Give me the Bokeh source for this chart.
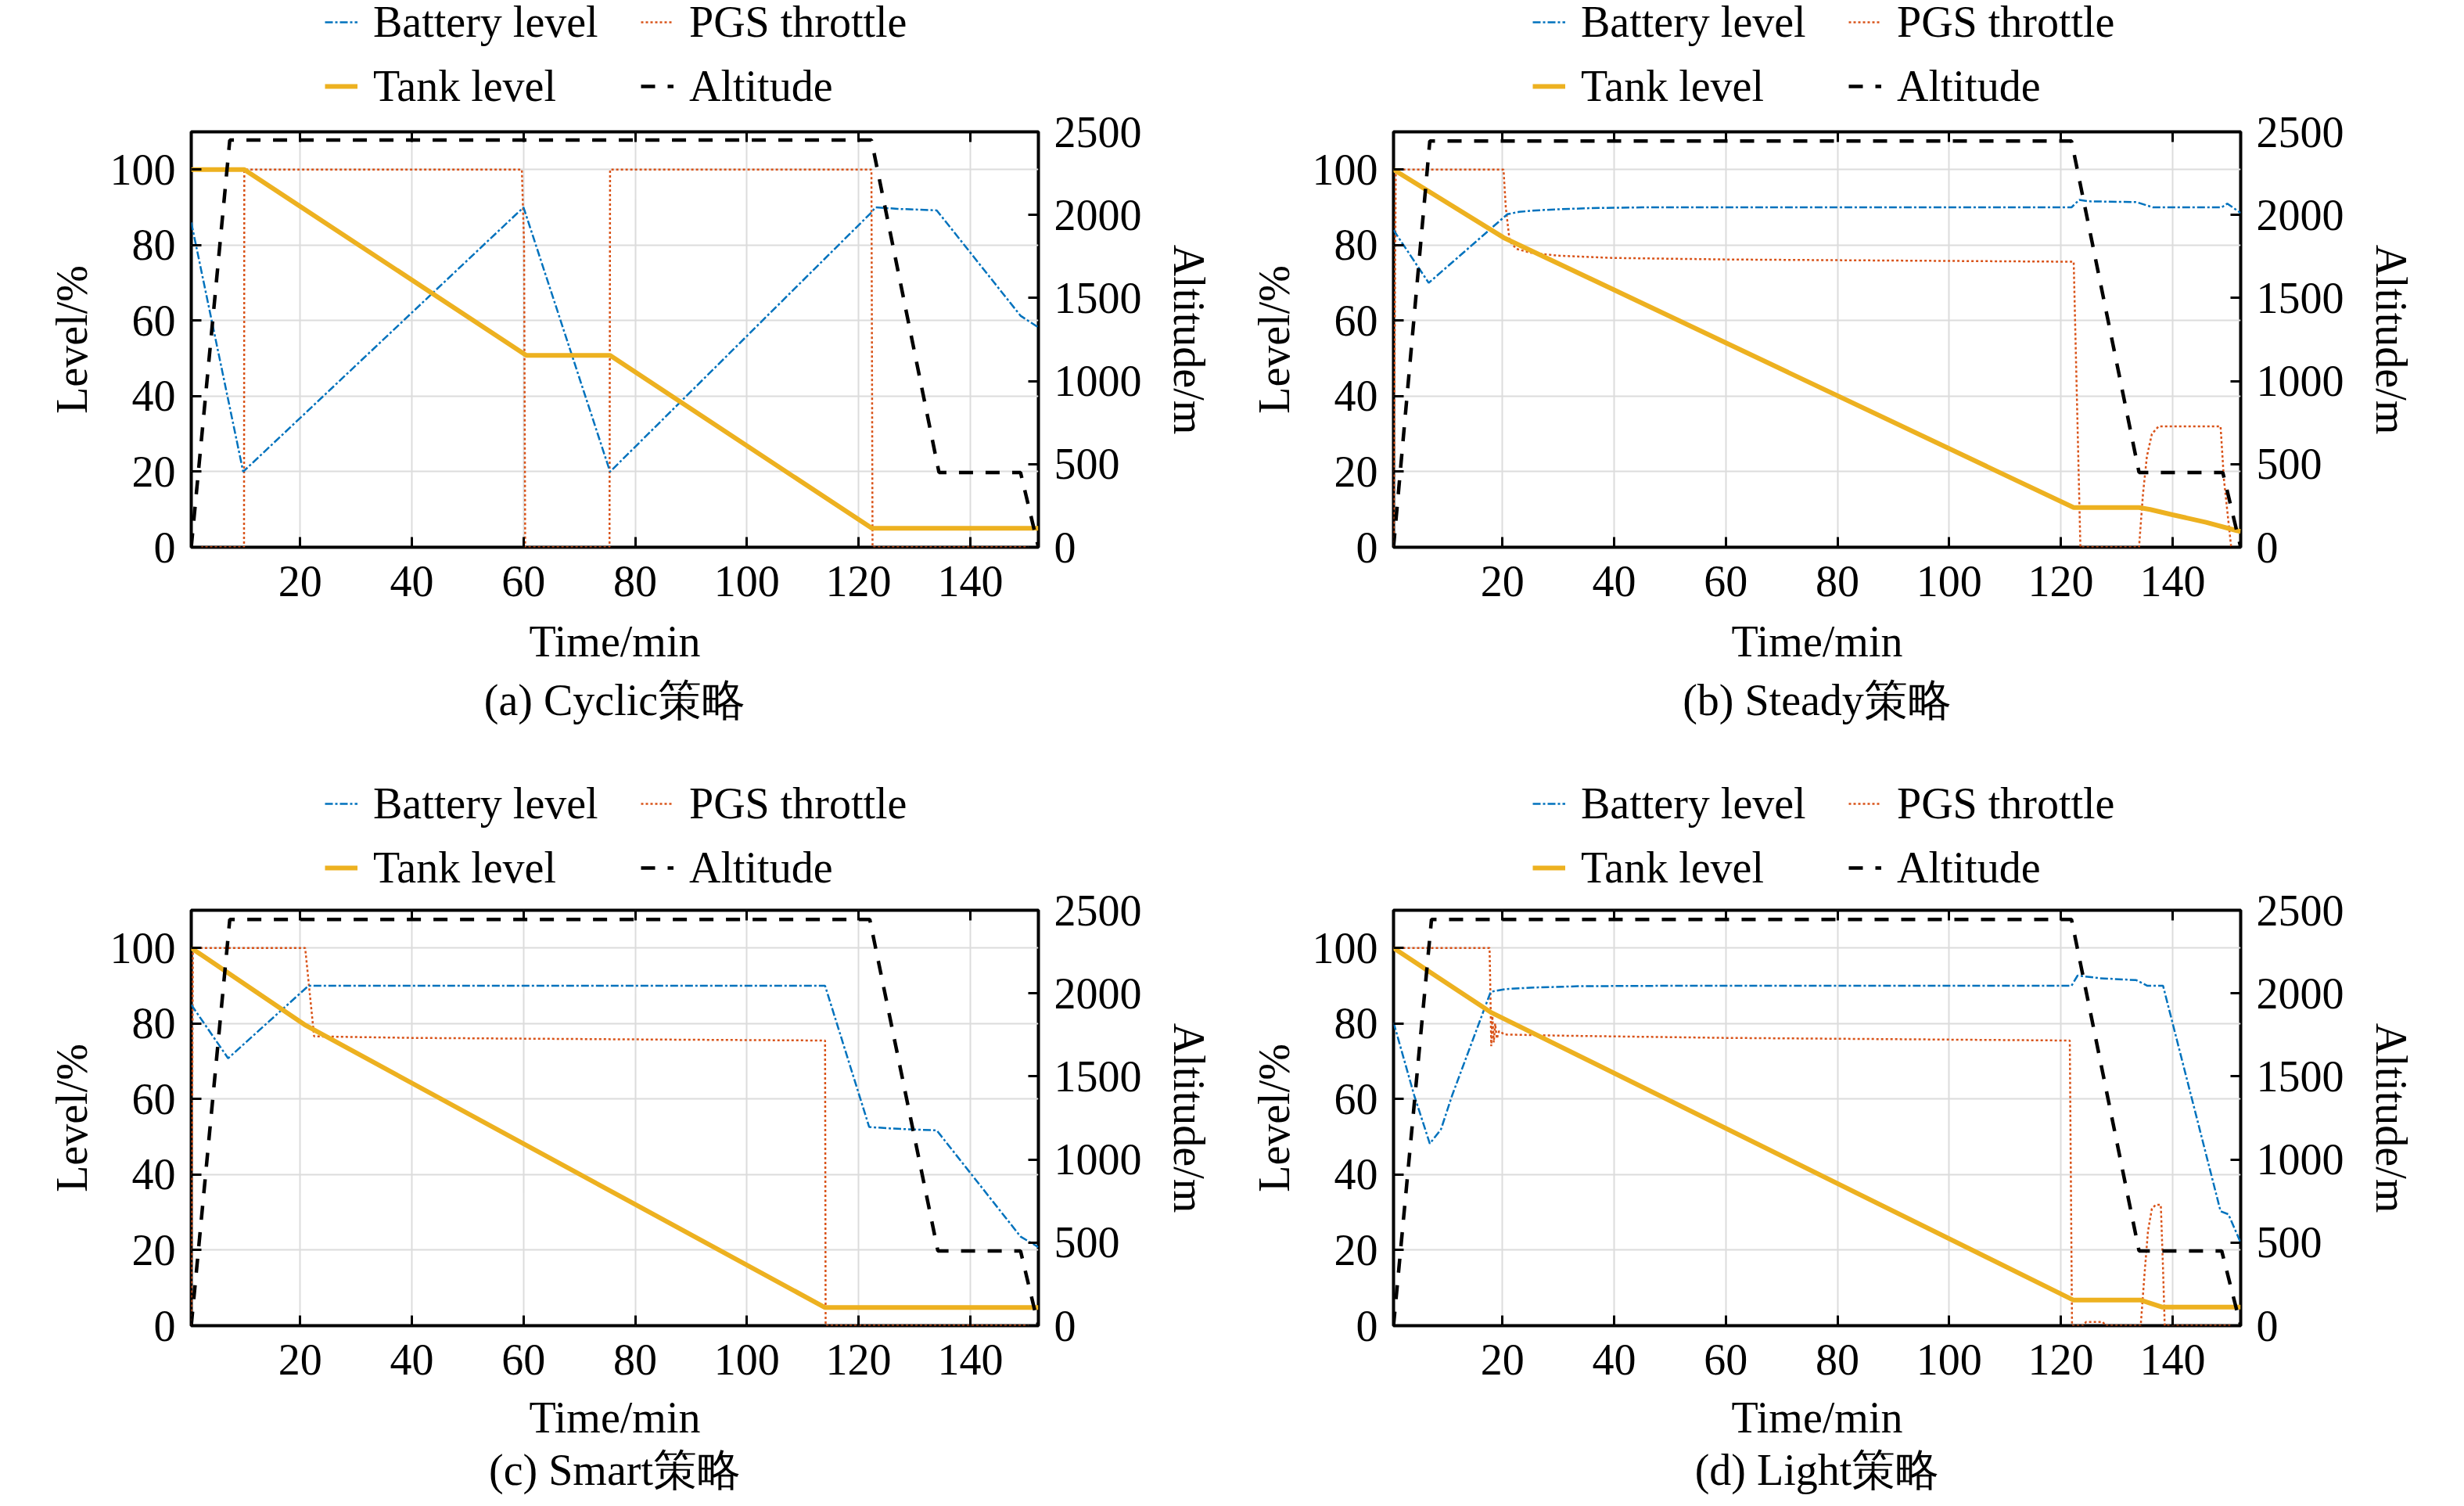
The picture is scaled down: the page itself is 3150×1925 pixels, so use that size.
from bokeh.plotting import figure
from bokeh.models import Range1d, LinearAxis, FixedTicker, Legend, LegendItem, Title
from bokeh.layouts import column, row
from bokeh.embed import file_html
from bokeh.resources import INLINE

# ---------------- data ----------------
x_ticks = [20, 40, 60, 80, 100, 120, 140]
level_ticks = [0, 20, 40, 60, 80, 100]
alt_ticks = [0, 500, 1000, 1500, 2000, 2500]
series_labels = ["Battery level", "PGS throttle", "Tank level", "Altitude"]
captions = ["(a) Cyclic策略", "(b) Steady策略", "(c) Smart策略", "(d) Light策略"]

# (a) Cyclic
bat_t_a = [0.5, 9.8, 60.0, 75.5, 122.2, 123.0, 127.0, 134.0, 149.0, 152.2]
bat_a = [86, 20, 90, 20, 88.5, 90, 89.6, 89.2, 61.3, 58.2]
pgs_t_a = [0.5, 9.95, 10.0, 59.7, 60.1, 60.3, 75.4, 75.5, 122.3, 122.5, 152.2]
pgs_a = [0, 0, 100, 100, 80, 0, 0, 100, 100, 0, 0]
tank_t_a = [0.5, 10.0, 60.5, 75.5, 122.4, 152.2]
tank_a = [100, 100, 50.8, 50.8, 5.0, 5.0]
alt_t_a = [0.5, 7.4, 122.3, 134.4, 149.0, 152.2]
alt_a = [0, 2450, 2450, 450, 450, 0]

# (b) Steady
bat_t_b = [0.5, 6.8, 20.9, 23, 26, 30, 36, 45, 121.9, 123.3, 125, 133.5, 136.5, 148.8, 149.8, 152.2]
bat_b = [84, 70, 88.2, 88.8, 89.2, 89.5, 89.8, 90, 90, 92, 91.6, 91.4, 90, 90, 91, 88.5]
pgs_t_b = [0.5, 0.9, 20.2, 20.6, 21.3, 22.5, 25, 30, 40, 60, 122.3, 123.5, 134.0, 134.7,
           135.4, 136.3, 137.5, 148.6, 149.2, 150.5, 152.2]
pgs_b = [0, 100, 100, 90, 81, 79, 78, 77.2, 76.6, 76.2, 75.6, 0, 0, 14, 24, 30, 32, 32, 18, 0, 0]
tank_t_b = [0.5, 20.2, 122.3, 134.0, 136.0, 140.0, 146.0, 151.5, 152.2]
tank_b = [100, 82, 10.5, 10.5, 10, 8.6, 6.6, 4.4, 4.2]
alt_t_b = [0.5, 7.0, 121.9, 134.0, 149.0, 152.2]
alt_b = [0, 2445, 2445, 450, 450, 0]

# (c) Smart
bat_t_c = [0.5, 7.1, 21.5, 114.0, 121.9, 126.0, 134.0, 149.0, 152.2]
bat_c = [85, 70.8, 90, 90, 52.6, 52.2, 51.7, 23.6, 20.8]
pgs_t_c = [0.5, 0.8, 20.9, 22.5, 40, 80, 114.0, 114.1, 152.2]
pgs_c = [0, 100, 100, 76.6, 76.2, 75.8, 75.5, 0, 0]
tank_t_c = [0.5, 21.0, 114.0, 152.2]
tank_c = [100, 79.5, 4.8, 4.8]
alt_t_c = [0.5, 7.4, 122.0, 134.2, 149.0, 152.2]
alt_c = [0, 2445, 2445, 450, 450, 0]

# (d) Light
bat_t_d = [0.5, 4.2, 7.0, 9.0, 11.0, 17.9, 20.4, 25, 33.9, 50, 121.9, 123.0, 127.0,
           133.5, 135.5, 138.3, 148.6, 150.0, 152.2]
bat_d = [80.3, 61, 48.2, 52, 61, 88.4, 89.1, 89.5, 89.9, 90, 90, 92.7, 92.0,
         91.5, 90, 90, 30.3, 29.5, 22]
pgs_t_d = [0.5, 17.7, 17.85, 18.0, 18.2, 18.45, 18.7, 19.0, 19.4, 20.4, 30, 60, 121.6, 122.0,
           124.0, 124.5, 127.5, 128.0, 134.3, 135.0, 135.6, 136.3, 137.0, 137.9, 138.3, 138.6, 152.2]
pgs_d = [100, 100, 88, 74, 82, 75, 80, 76, 78, 77.1, 76.8, 76.2, 75.5, 0,
         0, 1, 1, 0, 0, 14, 25, 31, 32, 32, 15, 0, 0]
tank_t_d = [0.5, 17.9, 122.2, 134.2, 138.2, 152.2]
tank_d = [100, 83, 6.8, 6.8, 4.9, 4.9]
alt_t_d = [0.5, 7.3, 121.9, 134.0, 148.8, 152.2]
alt_d = [0, 2445, 2445, 450, 450, 0]

# ---------------- styling ----------------
FONT = "Liberation Serif"
FS = "56px"
FRAME_H = 531
FRAME_W = 1083
TOP_B = 32
STYLES = [dict(line_color="#0072BD", line_width=2.5, line_dash="10 3 3 3"),   # battery
          dict(line_color="#D95319", line_width=2.5, line_dash="3 3"),        # PGS
          dict(line_color="#EDB120", line_width=6),                           # tank
          dict(line_color="black", line_width=4.5, line_dash="18 16")]        # altitude


def style_axis(ax, standoff, label_standoff=None):
    ax.axis_line_color = None
    ax.major_tick_in = 13
    ax.major_tick_out = 0
    ax.major_tick_line_width = 3
    ax.major_tick_line_color = "black"
    ax.minor_tick_line_color = None
    ax.major_label_text_font = FONT
    ax.major_label_text_font_size = FS
    ax.major_label_text_color = "black"
    ax.major_label_standoff = standoff
    ax.axis_label_text_font = FONT
    ax.axis_label_text_font_size = FS
    ax.axis_label_text_color = "black"
    ax.axis_label_text_font_style = "normal"
    if label_standoff is not None:
        ax.axis_label_standoff = label_standoff


def legend_fig(series, width, height, leg_x, leg_y):
    # legend-only strip above a panel; its frame is aligned with the panel's frame
    q = figure(width=width, height=height, x_range=Range1d(1000, 1001), y_range=Range1d(1000, 1001),
               output_backend="svg", toolbar_location=None, title=None,
               x_axis_location=None, y_axis_location=None,
               min_border=0, min_border_top=0, min_border_bottom=0)
    q.grid.visible = False
    q.outline_line_color = None
    q.background_fill_color = "white"
    q.border_fill_color = "white"
    rs = [q.line(t, v, **st) for (t, v), st in zip(series, STYLES)]
    items = [LegendItem(label=lab, renderers=[r]) for lab, r in zip(series_labels, rs)]
    leg = Legend(items=items, location=(leg_x, leg_y), orientation="horizontal",
                 ncols=2, padding=0, margin=0, spacing=18,
                 glyph_width=42, glyph_height=20, label_standoff=20,
                 label_width=324, label_height=64,
                 label_text_font=FONT, label_text_font_size=FS, label_text_color="black",
                 border_line_alpha=0, background_fill_alpha=0)
    q.add_layout(leg)
    return q


def panel(series, caption, width, height, bl, xl_standoff, cap_standoff):
    (bat_t, bat), (pgs_t, pgs), (tank_t, tank), (alt_t, alt) = series
    p = figure(width=width, height=height,
               x_range=Range1d(0.5, 152.2), y_range=Range1d(0, 110),
               output_backend="svg", toolbar_location=None, title=None,
               min_border_left=bl, min_border_right=width - bl - FRAME_W,
               min_border_top=TOP_B, min_border_bottom=height - TOP_B - FRAME_H)
    p.extra_y_ranges = {"alt": Range1d(0, 2500)}
    p.background_fill_color = "white"
    p.border_fill_color = "white"
    p.outline_line_color = "black"
    p.outline_line_width = 4

    xa = p.xaxis[0]
    xa.ticker = FixedTicker(ticks=x_ticks)
    xa.axis_label = "Time/min"
    style_axis(xa, 24, xl_standoff)

    ya = p.yaxis[0]
    ya.ticker = FixedTicker(ticks=level_ticks)
    ya.axis_label = "Level/%"
    style_axis(ya, 20, 15)

    ra = LinearAxis(y_range_name="alt", ticker=FixedTicker(ticks=alt_ticks),
                    axis_label="Altitude/m")
    style_axis(ra, 20, 26)
    p.add_layout(ra, "right")

    ta = LinearAxis(ticker=FixedTicker(ticks=x_ticks))
    style_axis(ta, 0)
    ta.major_label_text_font_size = "0px"
    ta.major_label_text_color = None
    p.add_layout(ta, "above")

    p.xgrid.grid_line_color = "#dcdcdc"
    p.xgrid.grid_line_width = 2
    p.ygrid.grid_line_color = "#dcdcdc"
    p.ygrid.grid_line_width = 2

    p.line(pgs_t, pgs, **STYLES[1])
    p.line(bat_t, bat, **STYLES[0])
    p.line(tank_t, tank, **STYLES[2])
    p.line(alt_t, alt, y_range_name="alt", **STYLES[3])

    cap = Title(text=caption, align="center", text_font=FONT, text_font_size=FS,
                text_font_style="normal", text_color="black", standoff=cap_standoff)
    p.add_layout(cap, "below")
    return p


ser_a = [(bat_t_a, bat_a), (pgs_t_a, pgs_a), (tank_t_a, tank_a), (alt_t_a, alt_a)]
ser_b = [(bat_t_b, bat_b), (pgs_t_b, pgs_b), (tank_t_b, tank_b), (alt_t_b, alt_b)]
ser_c = [(bat_t_c, bat_c), (pgs_t_c, pgs_c), (tank_t_c, tank_c), (alt_t_c, alt_c)]
ser_d = [(bat_t_d, bat_d), (pgs_t_d, pgs_d), (tank_t_d, tank_d), (alt_t_d, alt_d)]

W1, W2 = 1578, 1570
LH1 = 168 - TOP_B            # legend strip, row 1
LH2 = 1163 - 1003 - TOP_B    # legend strip, row 2
H1 = 1003 - LH1
H2 = 1925 - 1003 - LH2

la = legend_fig(ser_a, W1, LH1, 171, -6)
lb = legend_fig(ser_b, W2, LH1, 178, -6)
lc = legend_fig(ser_c, W1, LH2, 171, -10)
ld = legend_fig(ser_d, W2, LH2, 178, -10)

pa = panel(ser_a, captions[0], W1, H1, 244, 24, 16)
pb = panel(ser_b, captions[1], W2, H1, 203, 24, 16)
pc = panel(ser_c, captions[2], W1, H2, 244, 21, 0)
pd = panel(ser_d, captions[3], W2, H2, 203, 21, 0)

layout = column(row(column(la, pa), column(lb, pb)),
                row(column(lc, pc), column(ld, pd)))
open("out.html", "w").write(file_html(layout, INLINE))
